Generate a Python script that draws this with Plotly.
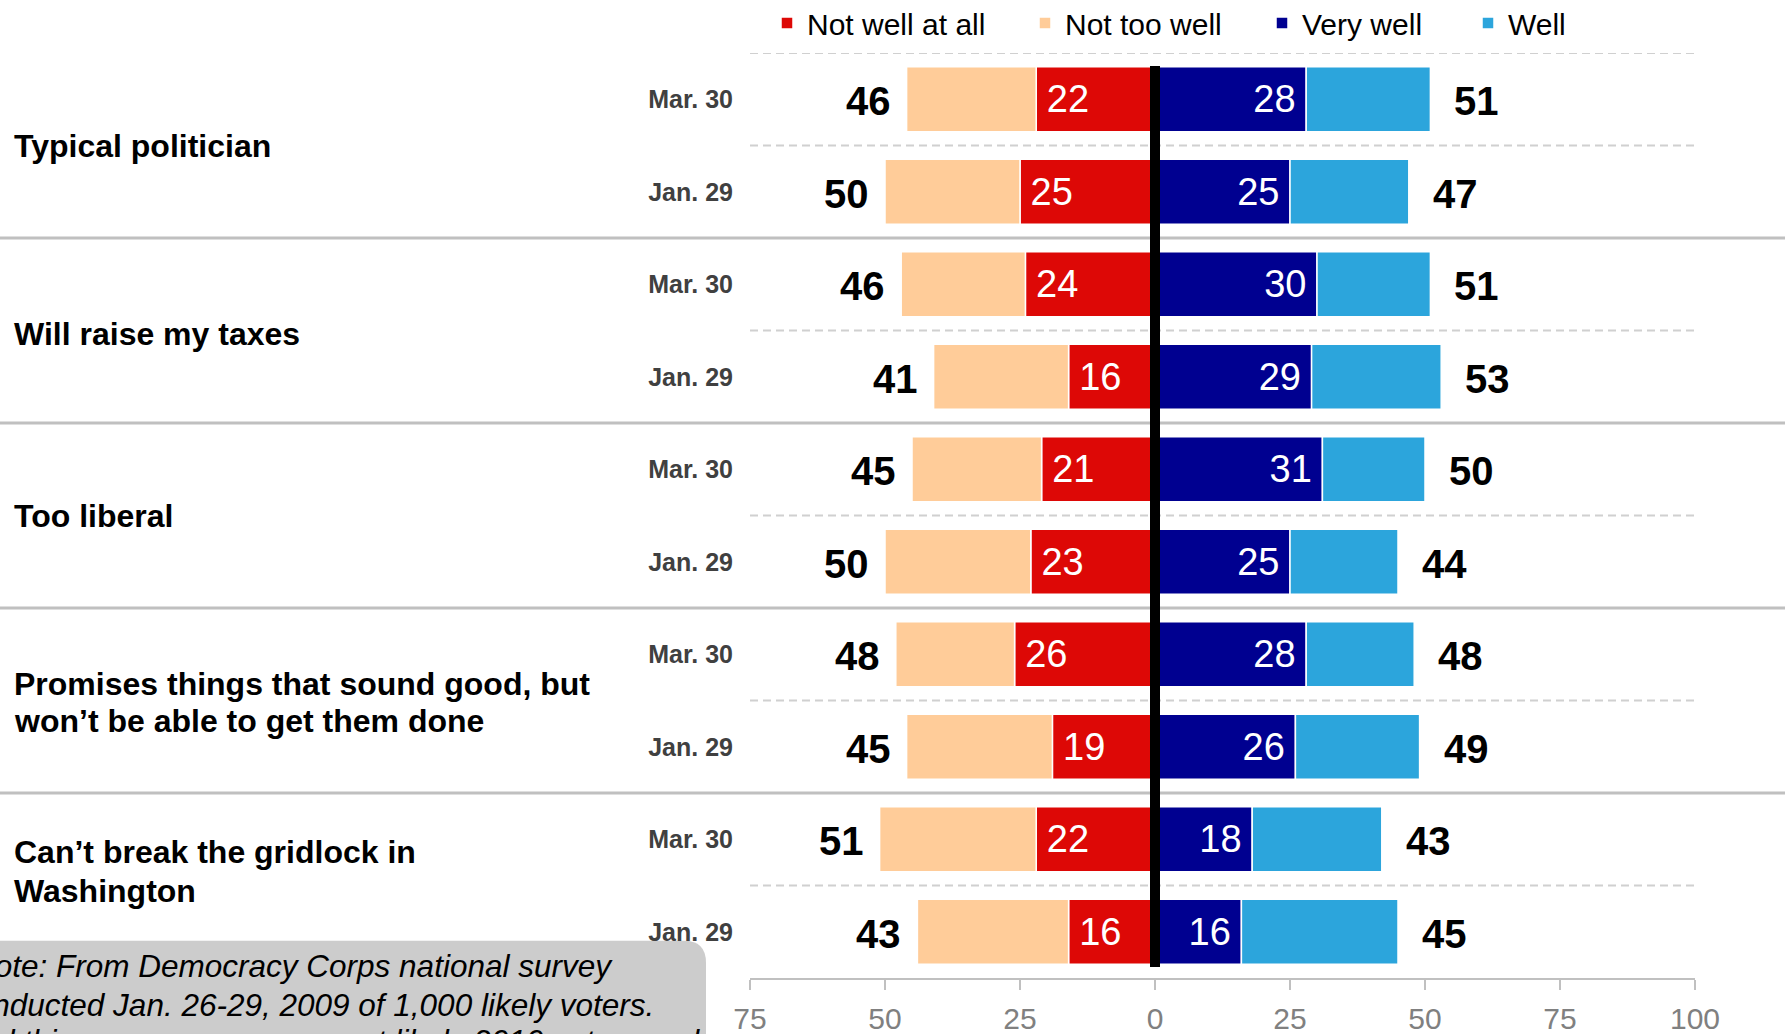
import plotly.graph_objects as go

# ---------------- data ----------------
groups = ["Typical politician", "Will raise my taxes", "Too liberal",
          "Promises things that sound good, but|won’t be able to get them done",
          "Can’t break the gridlock in|Washington"]
dates = ["Mar. 30", "Jan. 29"] * 5

not_well_at_all = [22, 25, 24, 16, 21, 23, 26, 19, 22, 16]
not_too_well    = [24, 25, 23, 25, 24, 27, 22, 27, 29, 28]
very_well       = [28, 25, 30, 29, 31, 25, 28, 26, 18, 16]
well            = [23, 22, 21, 24, 19, 20, 20, 23, 24, 29]

total_not_well = [46, 50, 46, 41, 45, 50, 48, 45, 51, 43]
total_well     = [51, 47, 51, 53, 50, 44, 48, 49, 43, 45]

x_ticks = [-75, -50, -25, 0, 25, 50, 75, 100]
x_tick_labels = ["75", "50", "25", "0", "25", "50", "75", "100"]

note_lines = ["Note: From Democracy Corps national survey",
              "conducted Jan. 26-29, 2009 of 1,000 likely voters.",
              "and this measure among most likely 2010 voters and"]

# ---------------- styling ----------------
W, H = 1785, 1034
ML, MR, MT, MB = 750, 90, 53, 56
PW, PH = W - ML - MR, H - MT - MB
FONT = "Arial, 'Liberation Sans', sans-serif"
C_RED, C_PEACH, C_NAVY, C_LBLUE = "#DD0806", "#FFCC99", "#000090", "#2CA5DC"


def px_x(px):
    return (px - ML) / PW


def px_y(py):
    return 1 - (py - MT) / PH


rows = list(range(len(dates)))
TS = "\u2009"

fig = go.Figure()
common = dict(orientation="h", y=rows, marker_line_color="white",
              marker_line_width=1.5, hoverinfo="skip",
              insidetextfont=dict(family=FONT, size=38, color="white"))
fig.add_trace(go.Bar(name="Not well at all", x=[-v for v in not_well_at_all],
                     text=[TS + str(v) for v in not_well_at_all],
                     textposition="inside", insidetextanchor="end",
                     marker_color=C_RED, legend="legend", **common))
fig.add_trace(go.Bar(name="Not too well", x=[-v for v in not_too_well],
                     marker_color=C_PEACH, legend="legend2", **common))
fig.add_trace(go.Bar(name="Very well", x=very_well,
                     text=[str(v) + TS for v in very_well],
                     textposition="inside", insidetextanchor="end",
                     marker_color=C_NAVY, legend="legend3", **common))
fig.add_trace(go.Bar(name="Well", x=well,
                     marker_color=C_LBLUE, legend="legend4", **common))

annotations = []
# totals
for i in rows:
    annotations.append(dict(x=-(not_well_at_all[i] + not_too_well[i]), y=i,
                            xref="x", yref="y", text=str(total_not_well[i]),
                            xanchor="right", yanchor="middle", xshift=-14, yshift=-2,
                            showarrow=False,
                            font=dict(family=FONT, size=40, color="black", weight="bold")))
    annotations.append(dict(x=very_well[i] + well[i], y=i,
                            xref="x", yref="y", text=str(total_well[i]),
                            xanchor="left", yanchor="middle", xshift=22, yshift=-2,
                            showarrow=False,
                            font=dict(family=FONT, size=40, color="black", weight="bold")))

# group labels
group_shifts = [[0], [-3], [0], [17, -20], [34, -5]]
for g, label in enumerate(groups):
    for line, ys in zip(label.split("|"), group_shifts[g]):
        annotations.append(dict(x=px_x(12), y=2 * g + 0.5, xref="paper", yref="y",
                                text=line, xanchor="left", yanchor="middle",
                                yshift=ys, showarrow=False,
                                font=dict(family=FONT, size=32, color="black", weight="bold")))

# note text
note_pos = [(-30, 966), (-43, 1005), (-40, 1041)]
for line, (nx, ny) in zip(note_lines, note_pos):
    annotations.append(dict(x=px_x(nx), y=px_y(ny), xref="paper", yref="paper",
                            text=line, xanchor="left", yanchor="middle",
                            showarrow=False,
                            font=dict(family=FONT, size=31.5, color="black", style="italic")))

shapes = []
# note box
xl, xr = px_x(-30), px_x(706)
yt, yb = px_y(940.7), px_y(1090)
rx, ry = 22 / PW, 22 / PH
shapes.append(dict(type="path", xref="paper", yref="paper", layer="below",
                   path=f"M{xl},{yb} L{xl},{yt} L{xr - rx},{yt} Q{xr},{yt} {xr},{yt - ry} L{xr},{yb} Z",
                   fillcolor="#CCCCCC", line=dict(width=0)))
# dashed row lines
for yv in [-0.5, 0.5, 2.5, 4.5, 6.5, 8.5]:
    shapes.append(dict(type="line", xref="paper", yref="y", x0=0, x1=1, y0=yv, y1=yv,
                       layer="below", line=dict(color="#D0D0D0", width=2, dash="8px,5px")))
# solid group separators (full width)
for yv in [1.5, 3.5, 5.5, 7.5]:
    shapes.append(dict(type="line", xref="paper", yref="y", x0=px_x(0), x1=px_x(W),
                       y0=yv, y1=yv, layer="below",
                       line=dict(color="#C0C0C0", width=3)))
# centre line
shapes.append(dict(type="line", xref="x", yref="y", x0=0, x1=0, y0=-0.36, y1=9.38,
                   layer="above", line=dict(color="black", width=10)))

legend_common = dict(orientation="h", xanchor="left", yanchor="middle",
                     y=px_y(23), bgcolor="rgba(0,0,0,0)", borderwidth=0,
                     font=dict(family=FONT, size=30, color="black"))

fig.update_layout(
    width=W, height=H,
    margin=dict(l=ML, r=MR, t=MT, b=MB, pad=0, autoexpand=False),
    paper_bgcolor="white", plot_bgcolor="white",
    barmode="relative", bargap=0.297,
    font=dict(family=FONT),
    showlegend=True,
    legend=dict(x=px_x(807 - 40), **legend_common),
    legend2=dict(x=px_x(1065 - 40), **legend_common),
    legend3=dict(x=px_x(1302 - 40), **legend_common),
    legend4=dict(x=px_x(1508 - 40), **legend_common),
    xaxis=dict(range=[-75, 100], tickvals=x_ticks, ticktext=x_tick_labels,
               showgrid=False, zeroline=False, showline=True,
               linecolor="#C0C0C0", linewidth=2,
               ticks="outside", ticklen=10, tickwidth=2, tickcolor="#C0C0C0",
               ticklabelstandoff=3,
               tickfont=dict(family=FONT, size=30, color="#808080"),
               automargin=False, fixedrange=True),
    yaxis=dict(range=[9.5, -0.5], tickvals=rows, ticktext=dates,
               showgrid=False, zeroline=False, showline=False, ticks="",
               ticklabelstandoff=16, automargin=False,
               tickfont=dict(family=FONT, size=25, color="#404040", weight="bold"),
               fixedrange=True),
    annotations=annotations,
    shapes=shapes,
)

fig.write_html("out.html", config={"displayModeBar": False},
               post_script="document.body.style.margin='0';document.body.style.overflow='hidden';")
